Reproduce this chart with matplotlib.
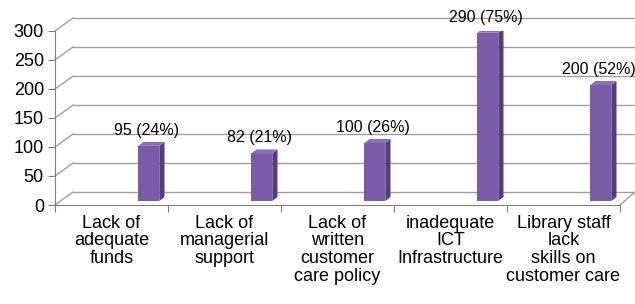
import matplotlib
matplotlib.use("Agg")
import matplotlib.pyplot as plt
from matplotlib.patches import Polygon

plt.rcParams['font.family'] = ['Liberation Sans', 'DejaVu Sans']

categories = [
    "Lack of\nadequate\nfunds",
    "Lack of\nmanagerial\nsupport",
    "Lack of\nwritten\ncustomer\ncare policy",
    "inadequate\nICT\nInfrastructure",
    "Library staff\nlack\nskills on\ncustomer care",
]
values = [95, 82, 100, 290, 200]
labels = ["95 (24%)", "82 (21%)", "100 (26%)", "290 (75%)", "200 (52%)"]
yticks = [0, 50, 100, 150, 200, 250, 300]

FRONT = '#7a5ba8'
SIDE = '#553c80'
TOP = '#8a6fba'
GRID = '#a0a0a0'

fig = plt.figure(figsize=(6.35, 3.04), dpi=100)
ax = fig.add_axes([55 / 635, 1 - 205 / 304, 565 / 635, 174 / 304])
n = len(categories)
ax.set_xlim(-0.5, n - 0.5)
ax.set_ylim(0, 300)

# depth offsets of the 3D-looking back wall (data units)
wall_dx, wall_dy = 0.159, 22.4
right_end = n - 0.5 + 0.133

for v in yticks:
    ax.plot([-0.5, -0.5 + wall_dx], [v, v + wall_dy], color=GRID, lw=1, clip_on=False, zorder=1)
    ax.plot([-0.5 + wall_dx, right_end], [v + wall_dy, v + wall_dy], color=GRID, lw=1, clip_on=False, zorder=1)
ax.plot([n - 0.5, right_end], [0, wall_dy], color=GRID, lw=1, clip_on=False, zorder=1)

# bars with a little side/top face
shift, w = 0.33, 0.186
base = 6.9
ddx, ddy = 0.046, 6.9
for i, v in enumerate(values):
    left = i + shift - w / 2
    right = i + shift + w / 2
    top = base + v
    ax.bar(i + shift, v, width=w, bottom=base, color=FRONT, zorder=3)
    ax.add_patch(Polygon([(right, base), (right + ddx, base + ddy), (right + ddx, top + ddy), (right, top)],
                         closed=True, facecolor=SIDE, edgecolor='none', zorder=3))
    ax.add_patch(Polygon([(left, top), (left + ddx, top + ddy), (right + ddx, top + ddy), (right, top)],
                         closed=True, facecolor=TOP, edgecolor='none', zorder=3))
    ax.text(i + shift - 0.02, top + 27, labels[i], ha='center', va='center', fontsize=11.5, zorder=4)

for s in ['top', 'right']:
    ax.spines[s].set_visible(False)
ax.spines['left'].set_color('#808080')
ax.spines['bottom'].set_color('#808080')

ax.set_yticks(yticks)
ax.set_yticklabels([str(t) for t in yticks], fontsize=13)
ax.set_xticks([i - 0.5 for i in range(n + 1)])
ax.set_xticklabels([])
ax.set_xticks(range(n), minor=True)
ax.set_xticklabels(categories, minor=True, fontsize=13, linespacing=1.05, va='top')
ax.tick_params(axis='x', which='minor', length=0, pad=7)
ax.tick_params(axis='x', which='major', length=5, color='#808080')
ax.tick_params(axis='y', length=5, color='#808080', pad=3)

fig.savefig('out.png', dpi=100)
